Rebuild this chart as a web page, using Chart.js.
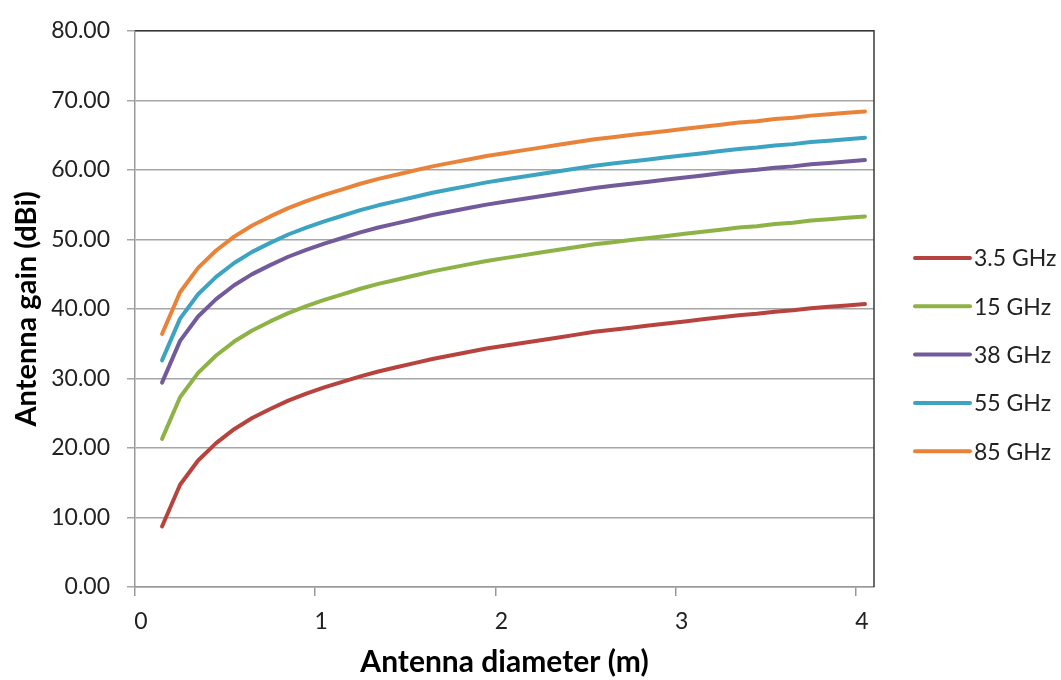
<!DOCTYPE html>
<html lang="en">
<head>
<meta charset="UTF-8">
<title>Antenna gain vs diameter</title>
<script src="https://cdn.jsdelivr.net/npm/chart.js"></script>
<style>
  body { margin: 0; background: #fff; }
  #wrap { width: 1061px; height: 680px; }
</style>
</head>
<body>
<div id="wrap"><canvas id="myChart" width="1061" height="680"></canvas></div>

<script>
// diameters (m)
const diameters = [0.15, 0.25, 0.35, 0.45, 0.55, 0.65, 0.75, 0.85, 0.95, 1.05,
  1.15, 1.25, 1.35, 1.45, 1.55, 1.65, 1.75, 1.85, 1.95, 2.05,
  2.15, 2.25, 2.35, 2.45, 2.55, 2.65, 2.75, 2.85, 2.95, 3.05,
  3.15, 3.25, 3.35, 3.45, 3.55, 3.65, 3.75, 3.85, 3.95, 4.05];

const seriesNames = ['3.5 GHz', '15 GHz', '38 GHz', '55 GHz', '85 GHz'];
const seriesColors = ['#B7433F', '#8DB246', '#735A9A', '#3CA3C1', '#E9833A'];

const gain35 = [8.7, 14.7, 18.2, 20.7, 22.7, 24.3, 25.6, 26.8, 27.8, 28.7,
  29.5, 30.3, 31.0, 31.6, 32.2, 32.8, 33.3, 33.8, 34.3, 34.7,
  35.1, 35.5, 35.9, 36.3, 36.7, 37.0, 37.3, 37.6, 37.9, 38.2,
  38.5, 38.8, 39.1, 39.3, 39.6, 39.8, 40.1, 40.3, 40.5, 40.7];
const gain15 = [21.3, 27.3, 30.8, 33.3, 35.3, 36.9, 38.2, 39.4, 40.4, 41.3,
  42.1, 42.9, 43.6, 44.2, 44.8, 45.4, 45.9, 46.4, 46.9, 47.3,
  47.7, 48.1, 48.5, 48.9, 49.3, 49.6, 49.9, 50.2, 50.5, 50.8,
  51.1, 51.4, 51.7, 51.9, 52.2, 52.4, 52.7, 52.9, 53.1, 53.3];
const gain38 = [29.4, 35.4, 38.9, 41.4, 43.4, 45.0, 46.3, 47.5, 48.5, 49.4,
  50.2, 51.0, 51.7, 52.3, 52.9, 53.5, 54.0, 54.5, 55.0, 55.4,
  55.8, 56.2, 56.6, 57.0, 57.4, 57.7, 58.0, 58.3, 58.6, 58.9,
  59.2, 59.5, 59.8, 60.0, 60.3, 60.5, 60.8, 61.0, 61.2, 61.4];
const gain55 = [32.6, 38.6, 42.1, 44.6, 46.6, 48.2, 49.5, 50.7, 51.7, 52.6,
  53.4, 54.2, 54.9, 55.5, 56.1, 56.7, 57.2, 57.7, 58.2, 58.6,
  59.0, 59.4, 59.8, 60.2, 60.6, 60.9, 61.2, 61.5, 61.8, 62.1,
  62.4, 62.7, 63.0, 63.2, 63.5, 63.7, 64.0, 64.2, 64.4, 64.6];
const gain85 = [36.4, 42.4, 45.9, 48.4, 50.4, 52.0, 53.3, 54.5, 55.5, 56.4,
  57.2, 58.0, 58.7, 59.3, 59.9, 60.5, 61.0, 61.5, 62.0, 62.4,
  62.8, 63.2, 63.6, 64.0, 64.4, 64.7, 65.0, 65.3, 65.6, 65.9,
  66.2, 66.5, 66.8, 67.0, 67.3, 67.5, 67.8, 68.0, 68.2, 68.4];

const allGains = [gain35, gain15, gain38, gain55, gain85];

const datasets = allGains.map((g, i) => ({
  label: seriesNames[i],
  data: g.map((v, k) => ({ x: diameters[k], y: v })),
  borderColor: seriesColors[i],
  backgroundColor: seriesColors[i],
  borderWidth: 4,
  borderCapStyle: 'round',
  borderJoinStyle: 'round',
  pointRadius: 0,
  showLine: true,
  tension: 0
}));

// top + right frame of the plot area
const framePlugin = {
  id: 'frame',
  afterDatasetsDraw(chart) {
    const { ctx, chartArea: a } = chart;
    ctx.save();
    ctx.strokeStyle = '#3a3a3a';
    ctx.lineWidth = 1.5;
    ctx.beginPath();
    ctx.moveTo(a.left, a.top);
    ctx.lineTo(a.right, a.top);
    ctx.lineTo(a.right, a.bottom);
    ctx.stroke();
    ctx.restore();
  }
};

// simple legend on the right
const legendPlugin = {
  id: 'sideLegend',
  afterDraw(chart) {
    const ctx = chart.ctx;
    const x0 = 915, len = 55, y0 = 258, step = 48.3;
    ctx.save();
    ctx.font = '23px Lato';
    ctx.textBaseline = 'middle';
    ctx.textAlign = 'left';
    chart.data.datasets.forEach((ds, i) => {
      const y = y0 + i * step;
      ctx.strokeStyle = ds.borderColor;
      ctx.lineWidth = 4;
      ctx.lineCap = 'round';
      ctx.beginPath();
      ctx.moveTo(x0, y);
      ctx.lineTo(x0 + len, y);
      ctx.stroke();
      ctx.fillStyle = '#222';
      ctx.fillText(ds.label, x0 + len + 4, y + 1);
    });
    ctx.restore();
  }
};

new Chart(document.getElementById('myChart'), {
  type: 'scatter',
  data: { datasets: datasets },
  options: {
    responsive: false,
    animation: false,
    devicePixelRatio: 1,
    layout: { padding: { top: 21, right: 187, left: 0, bottom: 0 } },
    plugins: {
      legend: { display: false },
      tooltip: { enabled: false }
    },
    scales: {
      x: {
        type: 'linear',
        min: 0,
        max: 4.1,
        afterFit(scale) { scale.height = 93; },
        ticks: {
          stepSize: 1,
          includeBounds: false,
          padding: 12,
          labelOffset: 6,
          color: '#222',
          font: { family: 'Lato', size: 23 },
          callback: v => String(v)
        },
        grid: { drawOnChartArea: false, drawTicks: true, tickLength: 9, color: '#999', lineWidth: 1.5 },
        border: { color: '#999', width: 1.5 },
        title: {
          display: true,
          text: 'Antenna diameter (m)',
          color: '#000',
          font: { family: 'Lato', size: 30, weight: 'bold' },
          padding: { top: 0, bottom: 0 }
        }
      },
      y: {
        min: 0,
        max: 80,
        afterFit(scale) { scale.width = 135; },
        ticks: {
          stepSize: 10,
          padding: 17,
          color: '#222',
          font: { family: 'Lato', size: 23 },
          callback: v => Number(v).toFixed(2)
        },
        grid: { color: '#a6a6a6', lineWidth: 1.5, tickLength: 8 },
        border: { color: '#999', width: 1.5 },
        title: {
          display: true,
          text: 'Antenna gain (dBi)',
          color: '#000',
          font: { family: 'Lato', size: 29, weight: 'bold' },
          padding: { top: 9, bottom: 0 }
        }
      }
    }
  },
  plugins: [framePlugin, legendPlugin]
});
</script>
</body>
</html>
